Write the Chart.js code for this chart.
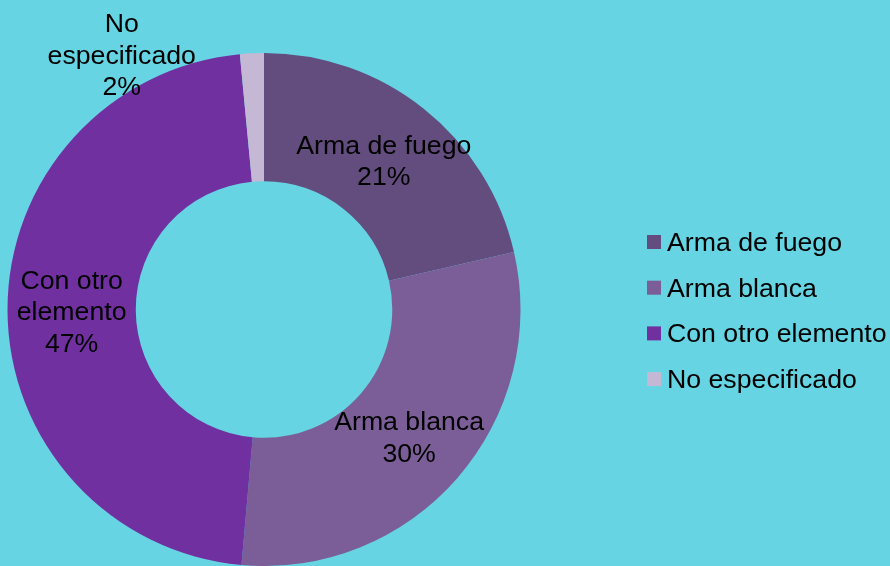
<!DOCTYPE html>
<html><head><meta charset="utf-8">
<script src="https://cdn.jsdelivr.net/npm/chart.js@4"></script>
<style>html,body{margin:0;padding:0;background:#66D4E2;}#c{display:block;}</style>
</head><body>
<canvas id="c" width="890" height="566"></canvas>
<script>
const categories = ["Arma de fuego", "Arma blanca", "Con otro elemento", "No especificado"];
const values = [21.4, 30.0, 47.1, 1.5];
const percentLabels = ["21%", "30%", "47%", "2%"];
const labelLines = [["Arma de fuego"], ["Arma blanca"], ["Con otro", "elemento"], ["No", "especificado"]];
const colors = ["#634C7E", "#7B5E98", "#7030A0", "#C4B8D5"];

const FONT = '26.7px "Liberation Sans", Arial, sans-serif';
const LINE_H = 31.5;

const labelPlugin = {
  id: 'sliceLabels',
  afterDatasetsDraw(chart) {
    const ctx = chart.ctx;
    const meta = chart.getDatasetMeta(0);
    ctx.save();
    ctx.font = FONT;
    ctx.fillStyle = '#000';
    ctx.textAlign = 'center';
    ctx.textBaseline = 'middle';
    meta.data.forEach((arc, i) => {
      const p = arc.getProps(['x','y','startAngle','endAngle','innerRadius','outerRadius']);
      const mid = (p.startAngle + p.endAngle) / 2;
      const lines = labelLines[i].concat([percentLabels[i]]);
      let cx, cy;
      if (i === 3) {
        const ox = p.x + Math.cos(mid) * p.outerRadius;
        const oy = p.y + Math.sin(mid) * p.outerRadius;
        let w = 0;
        lines.forEach(l => { w = Math.max(w, ctx.measureText(l).width); });
        cx = ox - 56 - w / 2;
        cy = oy + 3;
      } else {
        const r = (p.innerRadius + p.outerRadius) / 2;
        cx = p.x + Math.cos(mid) * r;
        cy = p.y + Math.sin(mid) * r + 3;
      }
      const top = cy - (lines.length - 1) * LINE_H / 2;
      lines.forEach((l, k) => ctx.fillText(l, cx, top + k * LINE_H));
    });
    ctx.restore();
  }
};

const legendPlugin = {
  id: 'customLegend',
  afterDraw(chart) {
    const ctx = chart.ctx;
    ctx.save();
    ctx.font = FONT;
    ctx.textAlign = 'left';
    ctx.textBaseline = 'middle';
    const x0 = 647, y0 = 242, step = 45.7;
    categories.forEach((c, i) => {
      const y = y0 + i * step;
      ctx.fillStyle = colors[i];
      ctx.fillRect(x0, y - 7, 14, 14);
      ctx.fillStyle = '#000';
      ctx.fillText(c, x0 + 20, y + 1.5);
    });
    ctx.restore();
  }
};

new Chart(document.getElementById('c'), {
  type: 'doughnut',
  data: {
    labels: categories,
    datasets: [{ data: values, backgroundColor: colors, borderWidth: 0 }]
  },
  options: {
    responsive: false,
    animation: false,
    cutout: '50%',
    layout: { padding: { top: 53, bottom: 0, left: 7, right: 369 } },
    plugins: { legend: { display: false }, tooltip: { enabled: false } }
  },
  plugins: [labelPlugin, legendPlugin]
});
</script>
</body></html>
